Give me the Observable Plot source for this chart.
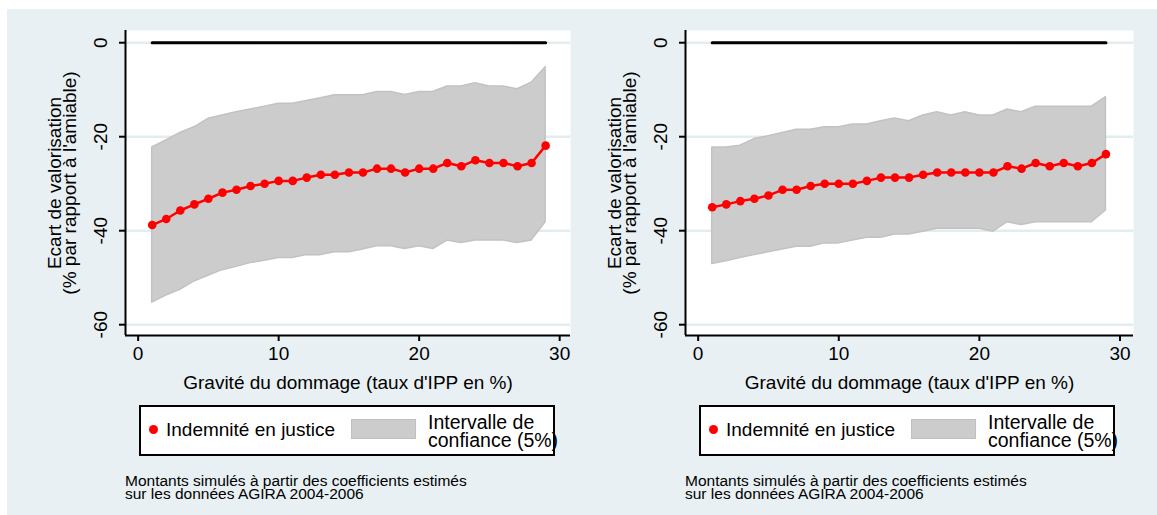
<!DOCTYPE html>
<html><head><meta charset="utf-8">
<script src="https://cdn.jsdelivr.net/npm/d3@7"></script>
<script src="https://cdn.jsdelivr.net/npm/@observablehq/plot@0.6"></script>
<style>
body{margin:0;background:#fff;font-family:"Liberation Sans",Arial,sans-serif;width:1157px;height:515px;overflow:hidden;position:relative;}
#bg{position:absolute;left:7px;top:9px;width:1150px;height:506px;background:#e8f0f3;}
.panel{position:absolute;top:0;}
.legend{position:absolute;width:412px;height:47px;border:2px solid #000;background:#fff;box-sizing:content-box;}
.legend .dot{position:absolute;width:9px;height:9px;border-radius:50%;background:#ff0000;left:8px;top:18px;}
.legend .t1{position:absolute;left:25px;top:13px;font-size:19px;line-height:19px;white-space:nowrap;}
.legend .sw{position:absolute;left:210px;top:12px;width:63px;height:18px;background:#cccccc;border:1.5px solid #c0c0c0;}
.legend .t2{position:absolute;left:287px;top:6px;font-size:19.5px;line-height:18px;white-space:nowrap;}
.caption{position:absolute;font-size:15.5px;line-height:14px;white-space:nowrap;}
</style></head><body>
<div id="bg"></div>
<script>
const ipp = [1,2,3,4,5,6,7,8,9,10,11,12,13,14,15,16,17,18,19,20,21,22,23,24,25,26,27,28,29];
const leftJustice = [-38.8,-37.5,-35.7,-34.4,-33.2,-31.9,-31.3,-30.5,-30.0,-29.4,-29.4,-28.7,-28.1,-28.1,-27.6,-27.6,-26.8,-26.8,-27.6,-26.8,-26.8,-25.6,-26.3,-25.0,-25.6,-25.6,-26.3,-25.6,-21.9];
const leftHigh = [-22.3,-20.8,-19.2,-18.0,-16.2,-15.5,-14.8,-14.2,-13.6,-13.0,-13.0,-12.4,-11.8,-11.2,-11.2,-11.2,-10.5,-10.5,-11.1,-10.5,-10.5,-9.3,-9.3,-8.6,-9.3,-9.3,-9.9,-8.5,-5.2];
const leftLow = [-55.3,-53.8,-52.6,-50.8,-49.6,-48.4,-47.7,-46.9,-46.4,-45.8,-45.8,-45.2,-45.2,-44.6,-44.6,-44.0,-43.3,-43.3,-43.9,-43.3,-43.9,-42.1,-42.6,-42.1,-42.1,-42.1,-42.6,-42.1,-38.2];
const rightJustice = [-35.0,-34.4,-33.7,-33.2,-32.5,-31.3,-31.3,-30.5,-30.0,-30.0,-30.0,-29.4,-28.7,-28.7,-28.7,-28.1,-27.6,-27.6,-27.6,-27.6,-27.6,-26.3,-26.8,-25.6,-26.3,-25.6,-26.3,-25.6,-23.7];
const rightHigh = [-22.3,-22.3,-21.9,-20.5,-19.9,-19.2,-18.5,-18.5,-18.0,-18.0,-17.4,-17.4,-16.7,-16.1,-16.7,-15.5,-14.8,-15.5,-14.8,-15.5,-15.5,-14.2,-14.8,-13.6,-13.6,-13.6,-13.6,-13.6,-11.6];
const rightLow = [-47.1,-46.5,-45.8,-45.2,-44.6,-44.0,-43.4,-43.4,-42.7,-42.7,-42.1,-41.5,-41.5,-40.8,-40.8,-40.2,-39.6,-39.6,-39.6,-39.6,-40.2,-38.2,-38.8,-38.2,-38.2,-38.2,-38.2,-38.2,-35.7];
const reference = [0,0,0,0,0,0,0,0,0,0,0,0,0,0,0,0,0,0,0,0,0,0,0,0,0,0,0,0,0];
const xTicks = [0,10,20,30];
const yTicks = [0,-20,-40,-60];
const xTitle = "Gravité du dommage (taux d'IPP en %)";
const yTitle = "Ecart de valorisation\n(% par rapport à l'amiable)";
const legendLabels = ["Indemnité en justice", "Intervalle de\nconfiance (5%)"];
const captionLines = ["Montants simulés à partir des coefficients estimés", "sur les données AGIRA 2004-2006"];

function panel(left, width, xMax, justice, low, high) {
  const rows = ipp.map((x, i) => ({x, v: justice[i], lo: low[i], hi: high[i], ref: reference[i]}));
  const xDomain = [-0.9, xMax];
  const yDomain = [-62.3, 2.6];
  const svg = Plot.plot({
    width, height: 400,
    marginLeft: 125, marginTop: 30, marginBottom: 65, marginRight: 5,
    style: {background: "transparent", fontFamily: '"Liberation Sans", Arial, sans-serif', fontSize: "19px", overflow: "visible"},
    x: {domain: xDomain, axis: null},
    y: {domain: yDomain, axis: null},
    marks: [
      Plot.frame({fill: "white", stroke: null}),
      Plot.gridY(yTicks, {stroke: "#e3ecef", strokeOpacity: 1, strokeWidth: 2.5}),
      Plot.areaY(rows, {x: "x", y1: "lo", y2: "hi", fill: "#cccccc", stroke: "#c2c2c2", strokeWidth: 1.5}),
      Plot.line(rows, {x: "x", y: "ref", stroke: "black", strokeWidth: 3}),
      Plot.line(rows, {x: "x", y: "v", stroke: "#ff0000", strokeWidth: 2.5}),
      Plot.dot(rows, {x: "x", y: "v", r: 4.3, fill: "#ff0000"}),
      Plot.ruleX([xDomain[0]], {stroke: "black", strokeWidth: 2}),
      Plot.ruleY([yDomain[0]], {stroke: "black", strokeWidth: 2}),
      Plot.axisY({ticks: yTicks, tickSize: 6, tickFormat: () => "", label: null, strokeWidth: 2}),
      Plot.axisX({ticks: xTicks, tickSize: 6, tickFormat: () => "", label: null, strokeWidth: 2}),
      Plot.text(yTicks, {y: d => d, text: d => String(d), frameAnchor: "left", textAnchor: "middle", lineAnchor: "middle", rotate: -90, dx: -25, fontSize: 19}),
      Plot.text(xTicks, {x: d => d, text: d => String(d), frameAnchor: "bottom", lineAnchor: "middle", dy: 18, fontSize: 19}),
      Plot.text([xTitle], {text: d => d, frameAnchor: "bottom", lineAnchor: "middle", dy: 47, fontSize: 19}),
      Plot.text([yTitle], {text: d => d, frameAnchor: "left", textAnchor: "middle", lineAnchor: "middle", rotate: -90, dx: -62, lineHeight: 0.82, fontSize: 19})
    ]
  });
  svg.classList.add("panel");
  svg.style.left = left + "px";
  document.body.appendChild(svg);

  const lg = document.createElement("div");
  lg.className = "legend";
  lg.style.left = (left + 139) + "px";
  lg.style.top = "405px";
  lg.innerHTML = `<div class="dot"></div><div class="t1">${legendLabels[0]}</div><div class="sw"></div><div class="t2">${legendLabels[1].replace("\n", "<br>")}</div>`;
  document.body.appendChild(lg);

  captionLines.forEach((line, i) => {
    const cap = document.createElement("div");
    cap.className = "caption";
    cap.style.left = (left + 125) + "px";
    cap.style.top = (474 + i * 13) + "px";
    cap.textContent = line;
    document.body.appendChild(cap);
  });
}

panel(0, 575, 30.77, leftJustice, leftLow, leftHigh);
panel(560, 578, 30.96, rightJustice, rightLow, rightHigh);
</script>
</body></html>
